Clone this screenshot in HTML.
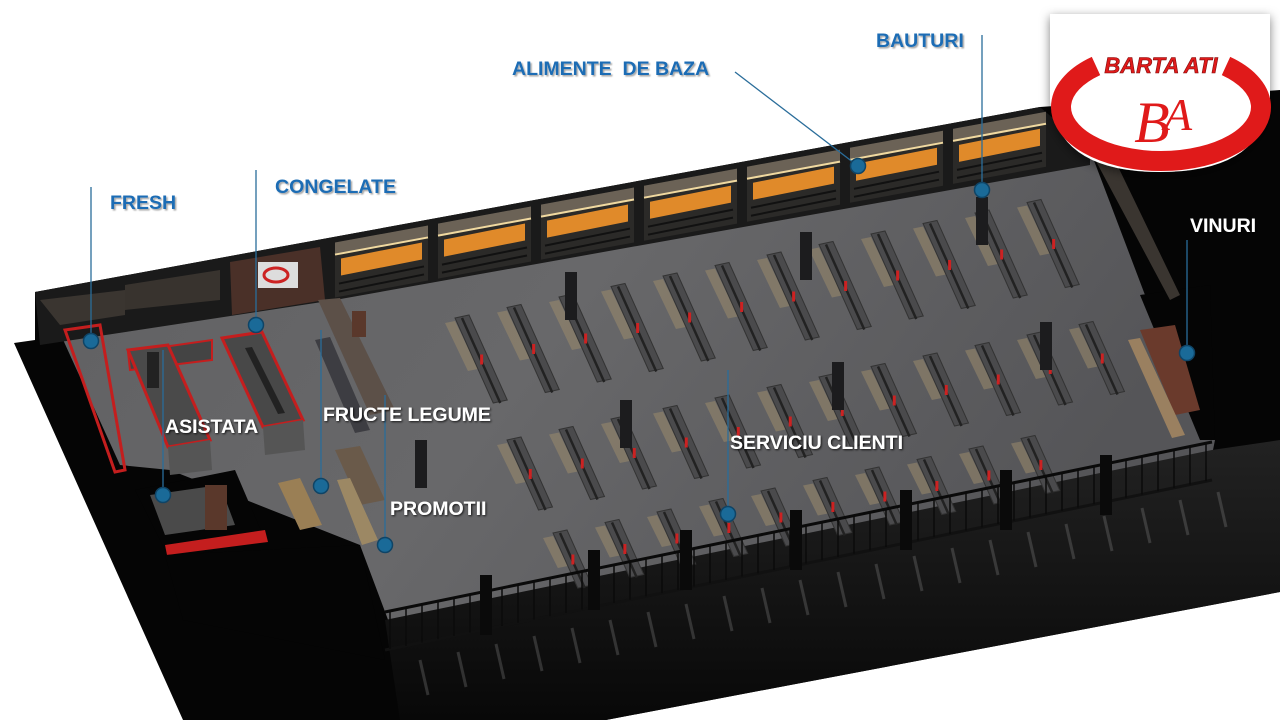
<!DOCTYPE html>
<html><head><meta charset="utf-8"><style>
html,body{margin:0;padding:0;background:#fff;width:1280px;height:720px;overflow:hidden}
svg{display:block}
.bl{font-family:"Liberation Sans",sans-serif;font-weight:bold;font-size:19.5px;fill:#1b6cb4;filter:url(#sh)}
.wl{font-family:"Liberation Sans",sans-serif;font-weight:bold;font-size:19.5px;fill:#fff;filter:url(#sh2)}
</style></head><body>
<svg id="s" width="1280" height="720" viewBox="0 0 1280 720" xmlns="http://www.w3.org/2000/svg">
<defs>
<filter id="sh"><feDropShadow dx="1.5" dy="1.5" stdDeviation="0.8" flood-color="#000" flood-opacity="0.35"/></filter>
<filter id="sh2"><feDropShadow dx="1" dy="1" stdDeviation="1" flood-color="#000" flood-opacity="0.8"/></filter>
<filter id="lsh"><feDropShadow dx="0" dy="3" stdDeviation="5" flood-color="#000" flood-opacity="0.5"/></filter>
<linearGradient id="fl" x1="0" y1="0" x2="1" y2="0.3"><stop offset="0" stop-color="#606062"/><stop offset="0.5" stop-color="#68686a"/><stop offset="1" stop-color="#555558"/></linearGradient>
<linearGradient id="dk" x1="0" y1="0" x2="0" y2="1"><stop offset="0" stop-color="#222"/><stop offset="1" stop-color="#080808"/></linearGradient>
</defs>
<polygon points="14,343 35,340 35,292 1040,107 1280,90 1280,592 606,720 183,720" fill="#050505"/>
<polygon points="45,300 1090,150 1145,295 1215,440 1212,455 390,625 360,545 170,470 120,465" fill="url(#fl)"/>
<polygon points="385,620 1212,450 1280,440 1280,592 606,720 400,720" fill="url(#dk)"/>
<g id="refl" stroke="#888" stroke-width="3" opacity="0.3"></g>
<polygon points="35,292 1040,107 1090,150 1090,165 335,300 40,345" fill="#1a1a1a"/>
<g id="wall"></g>
<polygon points="40,300 125,290 125,315 60,325" fill="#3a3530"/>
<polygon points="125,285 220,270 220,300 125,310" fill="#38332e"/>
<polygon points="230,262 320,247 325,300 232,315" fill="#4a3028"/>
<rect x="258" y="262" width="40" height="26" fill="#ddd"/>
<ellipse cx="276" cy="275" rx="12" ry="7" fill="none" stroke="#c22" stroke-width="3"/>
<g id="shelves"></g>
<polygon points="65,330 100,325 125,470 115,472" fill="none" stroke="#c41e1e" stroke-width="3"/>
<polygon points="128,352 212,340 212,360 130,370" fill="#444" stroke="#c41e1e" stroke-width="2"/>
<polygon points="128,350 168,345 210,440 168,447" fill="#4a4a4a" stroke="#c41e1e" stroke-width="3"/>
<rect x="147" y="352" width="12" height="36" fill="#222"/>
<polygon points="222,338 262,332 303,420 263,427" fill="#484848" stroke="#c41e1e" stroke-width="3"/>
<polygon points="245,348 252,347 285,413 278,414" fill="#222"/>
<polygon points="168,447 210,440 212,470 170,475" fill="#555"/>
<polygon points="263,427 303,420 305,450 265,455" fill="#555"/>
<polygon points="318,300 340,298 395,410 370,415" fill="#5c5048"/>
<rect x="352" y="311" width="14" height="26" fill="#5a382b"/>
<polygon points="315,340 330,337 370,430 355,433" fill="#3d3d42"/>
<polygon points="278,483 300,478 322,525 300,530" fill="#9a7f55"/>
<polygon points="335,450 360,446 385,500 360,505" fill="#6a5a4a"/>
<polygon points="337,480 350,478 378,540 362,545" fill="#9c8864"/>
<polygon points="135,490 235,470 265,540 170,560" fill="#050505"/>
<polygon points="150,495 220,485 235,525 165,535" fill="#4a4a4a"/>
<rect x="205" y="485" width="22" height="45" fill="#5a382b"/>
<polygon points="165,545 265,530 268,542 167,555" fill="#c41e1e"/>
<polygon points="165,555 360,545 385,660 183,620" fill="#050505"/>
<polygon points="1140,295 1210,285 1215,440 1200,440" fill="#050505"/>
<polygon points="1140,330 1175,325 1200,410 1175,415" fill="#6a3a2c"/>
<polygon points="1128,340 1140,338 1185,435 1172,438" fill="#9a8060"/>
<polygon points="1090,150 1110,150 1180,295 1170,300" fill="#3a3530"/>
<g id="fence" stroke="#0a0a0a" fill="none"></g>
<g stroke="#2a6d9a" stroke-width="1.3">
<line x1="91" y1="187" x2="91" y2="341"/>
<line x1="256" y1="170" x2="256" y2="325"/>
<line x1="735" y1="72" x2="858" y2="166"/>
<line x1="982" y1="35" x2="982" y2="190"/>
<line x1="1187" y1="240" x2="1187" y2="353"/>
<line x1="163" y1="350" x2="163" y2="495"/>
<line x1="321" y1="330" x2="321" y2="486"/>
<line x1="385" y1="395" x2="385" y2="545"/>
<line x1="728" y1="370" x2="728" y2="514"/>
</g>
<g fill="#1a6a98" stroke="#0f4466" stroke-width="1.5">
<circle cx="91" cy="341" r="7.5"/><circle cx="256" cy="325" r="7.5"/><circle cx="858" cy="166" r="7.5"/>
<circle cx="982" cy="190" r="7.5"/><circle cx="1187" cy="353" r="7.5"/><circle cx="163" cy="495" r="7.5"/>
<circle cx="321" cy="486" r="7.5"/><circle cx="385" cy="545" r="7.5"/><circle cx="728" cy="514" r="7.5"/>
</g>
<text class="bl" x="110" y="209">FRESH</text>
<text class="bl" x="275" y="193">CONGELATE</text>
<text class="bl" x="512" y="75" xml:space="preserve">ALIMENTE  DE BAZA</text>
<text class="bl" x="876" y="47">BAUTURI</text>
<text class="wl" x="165" y="433">ASISTATA</text>
<text class="wl" x="323" y="421">FRUCTE LEGUME</text>
<text class="wl" x="390" y="515">PROMOTII</text>
<text class="wl" x="730" y="449">SERVICIU CLIENTI</text>
<text class="wl" x="1190" y="232">VINURI</text>
<g filter="url(#lsh)">
<path d="M1050,14 L1270,14 L1270,100 Q1262,172 1160,172 Q1058,172 1050,100 Z" fill="#fff"/>
</g>
<path d="M1096,66 A100,54 0 1 0 1226,66" fill="none" stroke="#e01a1a" stroke-width="20"/>
<text x="1161" y="73" text-anchor="middle" font-family="Liberation Sans,sans-serif" font-weight="bold" font-style="italic" font-size="22" fill="#e01a1a" stroke="#7a0a0a" stroke-width="0.6">BARTA ATI</text>
<text x="1152" y="142" text-anchor="middle" font-family="Liberation Serif,serif" font-style="italic" font-size="58" fill="#e01a1a">B</text>
<text x="1178" y="130" text-anchor="middle" font-family="Liberation Serif,serif" font-style="italic" font-size="46" fill="#e01a1a">A</text>
</svg>
<script>
const NS="http://www.w3.org/2000/svg";
function el(p,t,a){const e=document.createElementNS(NS,t);for(const k in a)e.setAttribute(k,a[k]);document.getElementById(p).appendChild(e);return e;}
for(let i=0;i<7;i++){
 const x=335+i*103, y=243-0.184*(x-300)+6;
 const w=93;
 el('wall','polygon',{points:`${x},${y} ${x+w},${y-w*0.184} ${x+w},${y-w*0.184+55} ${x},${y+55}`,fill:'#2b2a28'});
 el('wall','polygon',{points:`${x},${y} ${x+w},${y-w*0.184} ${x+w},${y-w*0.184+12} ${x},${y+12}`,fill:'#6b6256'});
 el('wall','line',{x1:x,y1:y+12,x2:x+w,y2:y-w*0.184+12,stroke:'#f0d9a0','stroke-width':2});
 el('wall','polygon',{points:`${x+6},${y+16} ${x+w-6},${y-w*0.184+17} ${x+w-6},${y-w*0.184+34} ${x+6},${y+33}`,fill:'#e08a2a'});
 for(let j=1;j<3;j++)el('wall','line',{x1:x+4,y1:y+33+j*8,x2:x+w-4,y2:y-w*0.184+33+j*8,stroke:'#111','stroke-width':2});
}
const starts=[];
for(let i=0;i<12;i++){starts.push([455+i*52,318-i*10.5]);}
function shelf(x,y,L){
 const dx=L*0.45, dy=L;
 el('shelves','polygon',{points:`${x-10},${y+5} ${x},${y+3} ${x+dx*0.6},${y+dy*0.6} ${x+dx*0.6-10},${y+dy*0.6+2}`,fill:'#9a8a6c',opacity:0.55});
 el('shelves','polygon',{points:`${x},${y} ${x+14},${y-3} ${x+14+dx},${y-3+dy} ${x+dx},${y+dy}`,fill:'#4a4a4c',stroke:'#333'});
 el('shelves','line',{x1:x+7,y1:y,x2:x+7+dx,y2:y+dy,stroke:'#222','stroke-width':2.5});
 el('shelves','rect',{x:x+dx*0.5+6,y:y+dy*0.5-6,width:3,height:10,fill:'#c22'});
}
starts.forEach(([x,y],i)=>{
 shelf(x,y,85);
 shelf(x+52,y+122,70);
 if(i<10) shelf(x+98,y+215,55);
});
[[565,272],[620,400],[800,232],[832,362],[1040,322],[976,197],[415,440]].forEach(([x,y])=>el('shelves','rect',{x:x,y:y,width:12,height:48,fill:'#1c1c1e'}));
el('fence','line',{x1:385,y1:612,x2:1212,y2:442,'stroke-width':3});
el('fence','line',{x1:385,y1:650,x2:1212,y2:480,'stroke-width':3,stroke:'#111'});
for(let x=390;x<1212;x+=16){const y=612-(x-385)*0.2056;el('fence','line',{x1:x,y1:y,x2:x,y2:y+38,'stroke-width':1.5});}
[[480,575],[588,550],[680,530],[790,510],[900,490],[1000,470],[1100,455]].forEach(([x,y])=>el('fence','rect',{x:x,y:y,width:12,height:60,fill:'#0a0a0a',stroke:'none'}));
for(let i=0;i<22;i++){const x=420+i*38,y=660-i*8;el('refl','line',{x1:x,y1:y,x2:x+8,y2:y+35});}
</script>
</body></html>
